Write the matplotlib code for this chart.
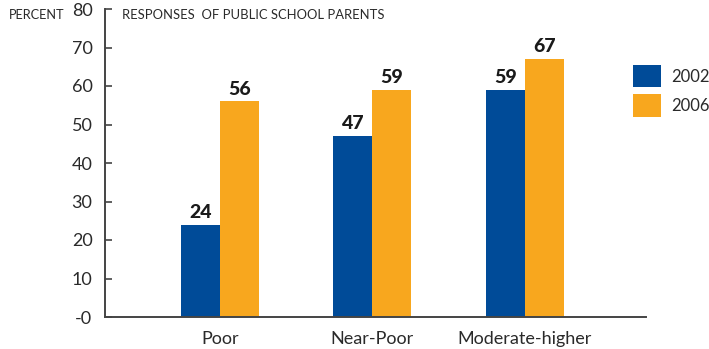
import matplotlib
matplotlib.use("Agg")
import matplotlib.pyplot as plt
from matplotlib.patches import Patch
import numpy as np

categories = ["Poor", "Near-Poor", "Moderate-higher"]
years = ["2002", "2006"]
values_2002 = [24, 47, 59]
values_2006 = [56, 59, 67]
y_ticks = [0, 10, 20, 30, 40, 50, 60, 70, 80]
y_tick_labels = ["-0", "10", "20", "30", "40", "50", "60", "70", "80"]

blue = "#004B98"
orange = "#F8A71E"
text_color = "#2a2a2a"
axis_color = "#444444"
font = "Lato"

fig = plt.figure(figsize=(7.09, 3.49), dpi=100)
ax = fig.add_axes([105 / 709, 1 - 317 / 349, 541 / 709, 308 / 349])

x = np.arange(len(categories))
w = 0.256
b1 = ax.bar(x - w / 2, values_2002, w, color=blue)
b2 = ax.bar(x + w / 2, values_2006, w, color=orange)

for bars, vals in ((b1, values_2002), (b2, values_2006)):
    for rect, v in zip(bars, vals):
        ax.text(rect.get_x() + rect.get_width() / 2, v + 1.0, f"{v}",
                ha="center", va="bottom", fontsize=14, fontweight=900,
                color="#1a1a1a", family=font)

ax.set_xlim(-0.754, 2.794)
ax.set_ylim(0, 80)
ax.set_yticks(y_ticks)
ax.set_yticklabels(y_tick_labels, fontsize=13, color=text_color, family=font)
ax.set_xticks(x)
ax.set_xticklabels(categories, fontsize=13, color=text_color, family=font)
ax.tick_params(axis="x", length=0, pad=10)
ax.tick_params(axis="y", direction="in", length=5, width=1.2, color=axis_color, pad=9)

for s in ("top", "right"):
    ax.spines[s].set_visible(False)
for s in ("left", "bottom"):
    ax.spines[s].set_color(axis_color)
    ax.spines[s].set_linewidth(1.4)

fig.text(9 / 709, 1 - 15 / 349, "PERCENT", fontsize=9.2, color=text_color,
         va="center", ha="left", family=font)
fig.text(122 / 709, 1 - 15 / 349, "RESPONSES  OF PUBLIC SCHOOL PARENTS",
         fontsize=9.4, color=text_color, va="center", ha="left", family=font)

handles = [Patch(facecolor=blue, edgecolor="none"),
           Patch(facecolor=orange, edgecolor="none")]
fig.legend(handles, years, loc="upper left", bbox_to_anchor=(633 / 709, 1 - 65 / 349),
           frameon=False, handlelength=1.68, handleheight=1.68,
           labelspacing=0.42, handletextpad=0.62, borderaxespad=0, borderpad=0,
           prop={"family": font, "size": 12}, labelcolor=text_color)

fig.savefig("out.png", dpi=100)
